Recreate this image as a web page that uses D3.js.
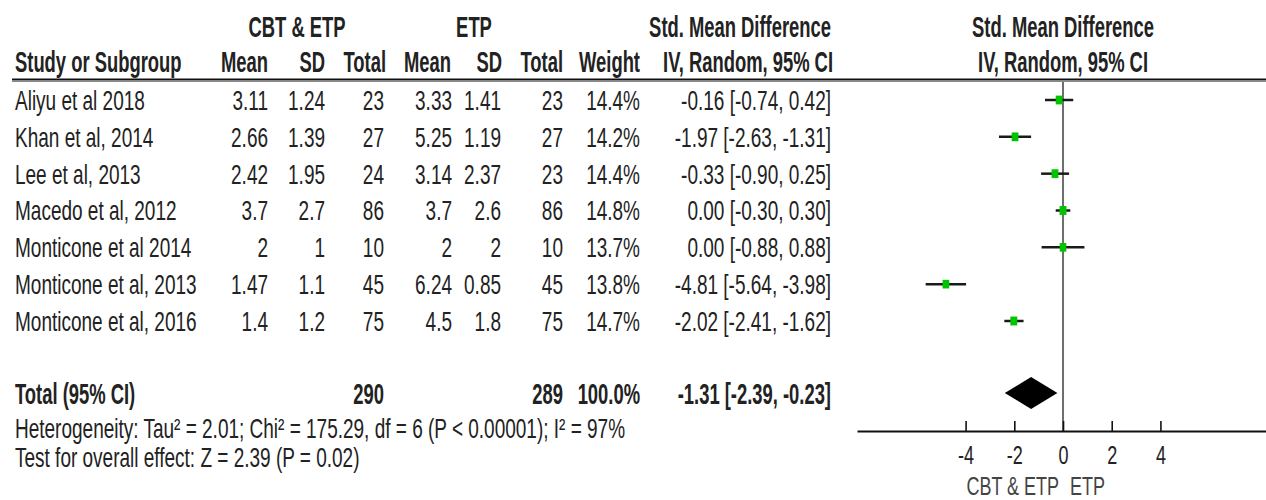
<!DOCTYPE html>
<html>
<head>
<meta charset="utf-8">
<script src="https://cdn.jsdelivr.net/npm/d3@7"></script>
<style>
  html, body { margin: 0; background: #fff; }
  svg { display: block; }
</style>
</head>
<body>
<svg id="chart" width="1266" height="500"></svg>
<script>
// ---- study data ----
const studies  = ["Aliyu et al 2018", "Khan et al, 2014", "Lee et al, 2013", "Macedo et al, 2012",
                  "Monticone et al 2014", "Monticone et al, 2013", "Monticone et al, 2016"];
const expMean  = [3.11, 2.66, 2.42, 3.7, 2, 1.47, 1.4];
const expSD    = [1.24, 1.39, 1.95, 2.7, 1, 1.1, 1.2];
const expN     = [23, 27, 24, 86, 10, 45, 75];
const ctlMean  = [3.33, 5.25, 3.14, 3.7, 2, 6.24, 4.5];
const ctlSD    = [1.41, 1.19, 2.37, 2.6, 2, 0.85, 1.8];
const ctlN     = [23, 27, 23, 86, 10, 45, 75];
const weights  = [14.4, 14.2, 14.4, 14.8, 13.7, 13.8, 14.7];
const smd      = [-0.16, -1.97, -0.33, 0.00, 0.00, -4.81, -2.02];
const ciLow    = [-0.74, -2.63, -0.90, -0.30, -0.88, -5.64, -2.41];
const ciHigh   = [0.42, -1.31, 0.25, 0.30, 0.88, -3.98, -1.62];

// pooled (random effects) result
const totalExpN = 290;
const totalCtlN = 289;
const totalWeight = 100.0;
const pooledSmd = -1.31;
const pooledLow = -2.39;
const pooledHigh = -0.23;

const axisTicks = [-4, -2, 0, 2, 4];
const groupLabels = ["CBT & ETP", "ETP"];
const heterogeneityText = "Heterogeneity: Tau\u00B2 = 2.01; Chi\u00B2 = 175.29, df = 6 (P < 0.00001); I\u00B2 = 97%";
const overallText = "Test for overall effect: Z = 2.39 (P = 0.02)";

// ---- layout ----
const svg = d3.select("#chart");
const INK = "#222";
const REG  = { size: 19,   sy: 1.47, weight: 400 };
const SMALL = { size: 18,  sy: 1.4,  weight: 400 };
const BOLD = { size: 18.4, sy: 1.6,  weight: 700 };
const FONT = "'Liberation Sans', Arial, sans-serif";

// columns: right edge of each numeric column
const col = { name: 15, expMean: 268, expSD: 325, expN: 384, ctlMean: 452, ctlSD: 501,
              ctlN: 563, weight: 640, ci: 831 };

const yRow = d3.scalePoint().domain(studies).range([100, 321]);
const yTotal = 393;
const yAxis = 431;

const x = d3.scaleLinear().domain([-8.46, 8.5]).range([857, 1270]);

// text drawn upright but stretched vertically; y is the visual centre line
function label(g, px, yc, s, style, anchor, fill) {
  const st = style || REG;
  const capH = 0.716 * st.size * st.sy;
  return g.append("text")
    .attr("transform", `translate(${px},${yc + capH / 2}) scale(1,${st.sy})`)
    .attr("text-anchor", anchor || "start")
    .attr("font-family", FONT)
    .attr("font-size", st.size)
    .attr("font-weight", st.weight)
    .attr("fill", fill || INK)
    .text(s);
}

const fmt2 = v => v.toFixed(2);
const ciText = (m, lo, hi) => `${fmt2(m)} [${fmt2(lo)}, ${fmt2(hi)}]`;

// ---- headers ----
const head = svg.append("g");
label(head, 297, 26, "CBT & ETP", BOLD, "middle");
label(head, 474, 26, "ETP", BOLD, "middle");
label(head, col.ci, 26, "Std. Mean Difference", BOLD, "end");
label(head, x(0), 26, "Std. Mean Difference", BOLD, "middle");

label(head, col.name, 61, "Study or Subgroup", BOLD, "start");
label(head, col.expMean, 61, "Mean", BOLD, "end");
label(head, col.expSD, 61, "SD", BOLD, "end");
label(head, col.expN + 2, 61, "Total", BOLD, "end");
label(head, col.ctlMean - 1, 61, "Mean", BOLD, "end");
label(head, col.ctlSD + 1, 61, "SD", BOLD, "end");
label(head, col.ctlN, 61, "Total", BOLD, "end");
label(head, col.weight, 61, "Weight", BOLD, "end");
label(head, col.ci + 2, 61, "IV, Random, 95% CI", BOLD, "end");
label(head, x(0), 61, "IV, Random, 95% CI", BOLD, "middle");

// header rule
svg.append("line").attr("x1", 12).attr("x2", 1266).attr("y1", 79.5).attr("y2", 79.5)
  .attr("stroke", "#111").attr("stroke-width", 2);
svg.append("line").attr("x1", 12).attr("x2", 1266).attr("y1", 81.5).attr("y2", 81.5)
  .attr("stroke", "#888").attr("stroke-width", 1);

// ---- study rows ----
const rows = svg.append("g");
studies.forEach((s, i) => {
  const y = yRow(s);
  label(rows, col.name, y, s);
  label(rows, col.expMean, y, String(expMean[i]), REG, "end");
  label(rows, col.expSD, y, String(expSD[i]), REG, "end");
  label(rows, col.expN, y, String(expN[i]), REG, "end");
  label(rows, col.ctlMean, y, String(ctlMean[i]), REG, "end");
  label(rows, col.ctlSD, y, String(ctlSD[i]), REG, "end");
  label(rows, col.ctlN, y, String(ctlN[i]), REG, "end");
  label(rows, col.weight, y, weights[i].toFixed(1) + "%", REG, "end");
  label(rows, col.ci, y, ciText(smd[i], ciLow[i], ciHigh[i]), REG, "end");
});

// ---- total row ----
const tot = svg.append("g");
label(tot, col.name, yTotal, "Total (95% CI)", BOLD);
label(tot, col.expN, yTotal, String(totalExpN), BOLD, "end");
label(tot, col.ctlN, yTotal, String(totalCtlN), BOLD, "end");
label(tot, col.weight, yTotal, totalWeight.toFixed(1) + "%", BOLD, "end");
label(tot, col.ci, yTotal, ciText(pooledSmd, pooledLow, pooledHigh), BOLD, "end");

label(svg, col.name, 428, heterogeneityText);
label(svg, col.name, 457, overallText);

// ---- forest plot ----
const plot = svg.append("g");

// line of no effect
plot.append("line")
  .attr("x1", x(0)).attr("x2", x(0)).attr("y1", 82).attr("y2", yAxis)
  .attr("stroke", "#6e6e6e").attr("stroke-width", 2);

// confidence intervals
plot.selectAll("line.ci").data(studies).join("line")
  .attr("class", "ci")
  .attr("x1", (d, i) => x(ciLow[i])).attr("x2", (d, i) => x(ciHigh[i]))
  .attr("y1", d => yRow(d)).attr("y2", d => yRow(d))
  .attr("stroke", "#1a1a1a").attr("stroke-width", 2.5);

// point estimates, sized by weight
const sq = w => Math.sqrt(w / 14.4);
plot.selectAll("rect.est").data(studies).join("rect")
  .attr("class", "est")
  .attr("x", (d, i) => x(smd[i]) - 3.4 * sq(weights[i]))
  .attr("y", (d, i) => yRow(d) - 4.4 * sq(weights[i]))
  .attr("width", (d, i) => 6.8 * sq(weights[i]))
  .attr("height", (d, i) => 8.8 * sq(weights[i]))
  .attr("fill", "#00c400");

// pooled diamond
const dh = 16;
plot.append("path")
  .attr("d", `M${x(pooledLow)},${yTotal} L${x(pooledSmd)},${yTotal - dh} L${x(pooledHigh)},${yTotal} L${x(pooledSmd)},${yTotal + dh} Z`)
  .attr("fill", "#000");

// axis
const axisG = plot.append("g").attr("transform", `translate(0,${yAxis})`)
  .call(d3.axisBottom(x).tickValues(axisTicks).tickFormat(d => String(d))
    .tickSizeInner(-10).tickSizeOuter(0).tickPadding(0));
axisG.select(".domain").attr("stroke", "#111").attr("stroke-width", 2);
axisG.selectAll(".tick line").attr("stroke", "#111").attr("stroke-width", 1.6);
axisG.selectAll(".tick text")
  .attr("y", null).attr("dy", null)
  .attr("transform", `translate(0,${24 + 0.716 * SMALL.size * SMALL.sy / 2}) scale(1,${SMALL.sy})`)
  .attr("font-family", FONT).attr("font-size", SMALL.size).attr("fill", INK);

// favours labels
label(plot, x(0) - 4, 486, groupLabels[0], SMALL, "end", "#444");
label(plot, x(0) + 7, 486, groupLabels[1], SMALL, "start", "#444");
</script>
</body>
</html>
